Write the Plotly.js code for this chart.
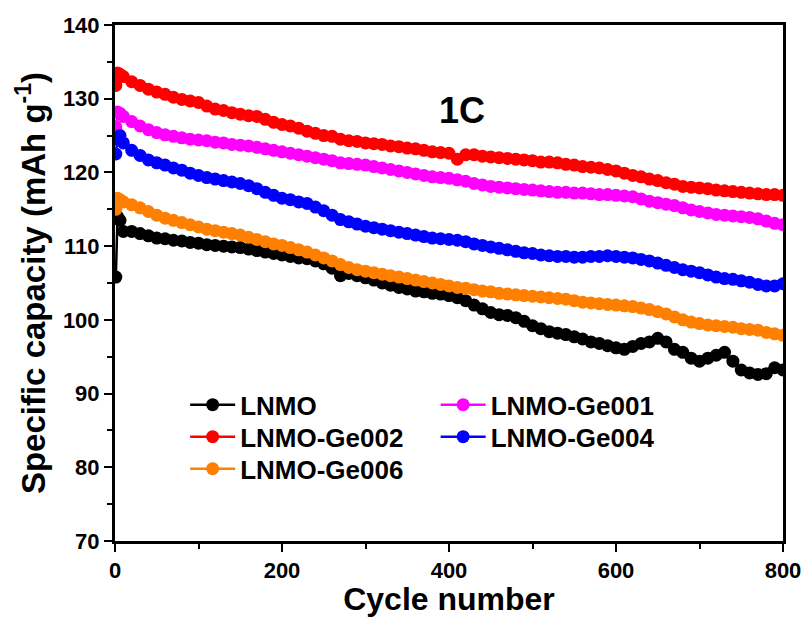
<!DOCTYPE html>
<html>
<head>
<meta charset="utf-8">
<script src="https://cdn.plot.ly/plotly-3.0.1.min.js"></script>
<style>html,body{margin:0;padding:0;background:#fff;}#chart{width:809px;height:617px;}</style>
</head>
<body>
<div id="chart"></div>
<script>
const cycles = [1,3,6,10,20,30,40,50,60,70,80,90,100,110,120,130,140,150,160,170,180,190,200,210,220,230,240,250,260,270,280,290,300,310,320,330,340,350,360,370,380,390,400,410,420,430,440,450,460,470,480,490,500,510,520,530,540,550,560,570,580,590,600,610,620,630,640,650,660,670,680,690,700,710,720,730,740,750,760,770,780,790,800];

const lnmo = [105.8,114.0,113.5,112.0,112.0,111.7,111.4,111.1,111.0,110.8,110.7,110.5,110.4,110.2,110.1,110.0,109.9,109.8,109.6,109.4,109.2,109.0,108.8,108.6,108.4,108.3,108.0,107.6,107.0,106.0,106.3,106.0,105.7,105.4,105.0,104.7,104.4,104.2,103.9,103.8,103.6,103.5,103.3,103.0,102.6,102.0,101.5,101.0,100.7,100.6,100.3,99.8,99.2,98.8,98.4,98.2,98.0,97.7,97.4,97.0,96.8,96.5,96.2,96.0,96.4,96.8,97.0,97.5,97.0,96.0,95.6,94.8,94.4,94.8,95.2,95.6,94.4,93.2,92.8,92.6,92.7,93.5,93.2];

const ge001 = [126.2,128.2,128.0,127.6,126.9,126.3,125.8,125.4,125.1,124.9,124.7,124.5,124.4,124.3,124.1,124.0,123.8,123.7,123.6,123.4,123.2,123.0,122.8,122.6,122.4,122.2,122.0,121.8,121.6,121.3,121.2,121.1,121.0,120.8,120.6,120.4,120.2,120.0,119.8,119.6,119.4,119.3,119.2,119.0,118.8,118.5,118.3,118.1,118.0,117.9,117.8,117.7,117.6,117.5,117.4,117.3,117.3,117.2,117.2,117.1,117.0,117.0,116.9,116.8,116.7,116.4,116.1,115.9,115.7,115.5,115.2,114.9,114.7,114.5,114.3,114.2,114.1,114.0,113.9,113.7,113.4,113.1,112.9];

const ge002 = [131.8,133.5,133.3,133.0,132.3,131.8,131.3,130.9,130.6,130.2,129.9,129.7,129.5,129.0,128.6,128.4,128.1,127.9,127.7,127.6,127.2,126.8,126.5,126.3,126.0,125.6,125.3,125.0,124.9,124.5,124.3,124.2,124.0,123.9,123.8,123.6,123.5,123.3,123.2,123.0,122.8,122.7,122.6,121.8,122.4,122.4,122.2,122.1,122.0,121.9,121.8,121.7,121.6,121.4,121.4,121.3,121.1,121.0,120.8,120.7,120.6,120.4,120.2,119.9,119.6,119.4,119.1,118.9,118.6,118.4,118.1,118.0,117.9,117.8,117.6,117.5,117.4,117.3,117.2,117.1,117.0,117.0,116.9];

const ge004 = [122.5,124.5,125.0,124.0,123.0,122.3,121.7,121.3,121.0,120.6,120.3,119.9,119.6,119.3,119.1,118.9,118.7,118.5,118.2,117.8,117.3,116.9,116.5,116.3,116.0,115.8,115.3,114.8,114.2,113.6,113.3,113.0,112.7,112.5,112.3,112.1,111.9,111.7,111.5,111.3,111.1,111.0,110.9,110.8,110.6,110.3,110.1,109.9,109.7,109.5,109.3,109.1,109.0,108.8,108.7,108.6,108.6,108.5,108.5,108.6,108.6,108.7,108.6,108.5,108.4,108.2,108.0,107.7,107.4,107.1,106.8,106.6,106.4,106.1,105.8,105.6,105.5,105.3,105.1,104.8,104.6,104.6,104.9];

const ge006 = [115.0,116.5,116.3,116.0,115.6,115.2,114.7,114.2,113.8,113.5,113.2,112.9,112.6,112.3,112.1,111.9,111.7,111.5,111.2,110.9,110.6,110.3,110.1,109.8,109.5,109.2,108.8,108.4,108.0,107.5,107.1,106.8,106.6,106.4,106.2,106.0,105.8,105.6,105.4,105.2,105.0,104.8,104.6,104.4,104.3,104.1,103.9,103.8,103.6,103.5,103.4,103.3,103.2,103.1,103.0,102.9,102.8,102.6,102.4,102.3,102.2,102.1,102.0,101.9,101.8,101.6,101.4,101.1,100.8,100.4,100.0,99.7,99.5,99.3,99.2,99.1,99.0,98.8,98.7,98.6,98.3,98.1,97.9];

const seriesNames = ['LNMO','LNMO-Ge001','LNMO-Ge002','LNMO-Ge004','LNMO-Ge006'];
const seriesData = [lnmo, ge001, ge002, ge004, ge006];
const seriesColors = ['#000000','#ff00ff','#ff0000','#0000ff','#ff7f00'];
const xTicks = [0,200,400,600,800];
const yTicks = [70,80,90,100,110,120,130,140];

const FONT = 'Liberation Sans, Arial, sans-serif';
const legendKeys = ['legend','legend2','legend3','legend4','legend5'];
const legendX = [0.105, 0.48, 0.105, 0.48, 0.105];
const legendY = [0.264, 0.264, 0.202, 0.202, 0.140];

const traces = seriesNames.map((n,i) => ({
  x: cycles, y: seriesData[i], name: n, type: 'scatter', mode: 'lines+markers',
  line: {color: seriesColors[i], width: 2.5},
  marker: {color: seriesColors[i], size: 13, line: {width: 0}},
  legend: legendKeys[i]
}));

const data = [0,2,4,1,3].map(i => traces[i]);

const legendFont = {family: FONT, size: 26, weight: 'bold', color: '#000'};

const layout = {
  width: 809, height: 617,
  margin: {l: 115, r: 26, t: 25, b: 76},
  paper_bgcolor: '#fff', plot_bgcolor: '#fff',
  showlegend: true,
  xaxis: {
    range: [0, 800], tickvals: xTicks, ticktext: xTicks.map(String),
    showgrid: false, zeroline: false,
    showline: true, linecolor: '#000', linewidth: 3, mirror: true,
    ticks: 'outside', ticklen: 8, tickwidth: 2, tickcolor: '#000',
    minor: {dtick: 100, tick0: 0, ticks: 'outside', ticklen: 5, tickwidth: 2, tickcolor: '#000'},
    tickfont: {family: FONT, size: 22, weight: 'bold', color: '#000'},
    title: {text: 'Cycle number', font: {family: FONT, size: 32, weight: 'bold', color: '#000'}, standoff: 11}
  },
  yaxis: {
    range: [70, 140], tickvals: yTicks, ticktext: yTicks.map(String),
    showgrid: false, zeroline: false,
    showline: true, linecolor: '#000', linewidth: 3, mirror: true,
    ticks: 'outside', ticklen: 8, tickwidth: 2, tickcolor: '#000',
    minor: {dtick: 5, tick0: 70, ticks: 'outside', ticklen: 5, tickwidth: 2, tickcolor: '#000'},
    tickfont: {family: FONT, size: 22, weight: 'bold', color: '#000'},
    title: {text: 'Specific capacity (mAh g<sup>-1</sup>)', font: {family: FONT, size: 33, weight: 'bold', color: '#000'}, standoff: 8}
  },
  annotations: [{
    xref: 'paper', yref: 'paper', x: 0.52, y: 0.835, xanchor: 'center', yanchor: 'middle',
    text: '1C', showarrow: false, font: {family: FONT, size: 36, weight: 'bold', color: '#000'}
  }]
};

legendKeys.forEach((k, i) => {
  layout[k] = {
    x: legendX[i], y: legendY[i], xanchor: 'left', yanchor: 'middle',
    bgcolor: 'rgba(0,0,0,0)', borderwidth: 0, itemwidth: 45,
    font: legendFont, tracegroupgap: 0
  };
});

Plotly.newPlot('chart', data, layout, {displayModeBar: false, staticPlot: true});
</script>
</body>
</html>
